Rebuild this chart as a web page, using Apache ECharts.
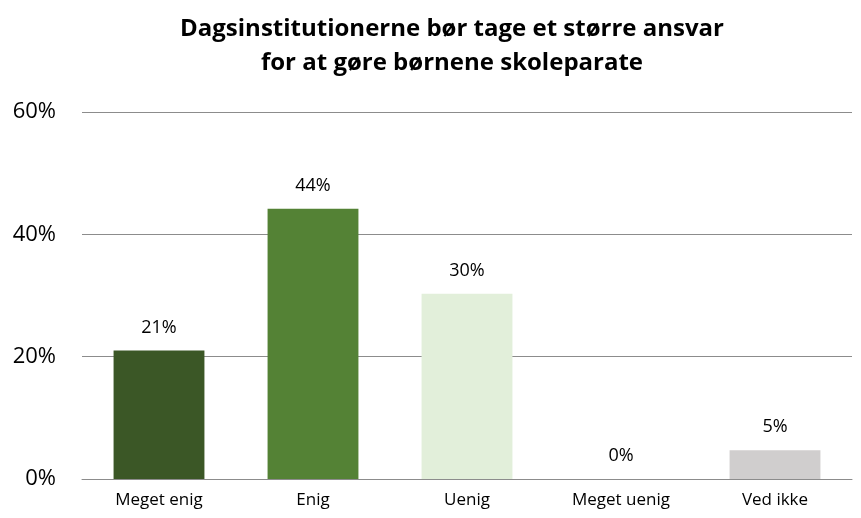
<!DOCTYPE html>
<html>
<head>
  <meta charset="utf-8">
  <title>Dagsinstitutionerne</title>
  <script src="https://cdn.jsdelivr.net/npm/echarts@6.0.0/dist/echarts.min.js"></script>
  <style>
    body { margin: 0; background: #fff; }
    #chart { width: 861px; height: 518px; }
  </style>
</head>
<body>
  <div id="chart"></div>
  <script>
    const categories = ['Meget enig', 'Enig', 'Uenig', 'Meget uenig', 'Ved ikke'];
    const values = [21, 44.2, 30.3, 0, 4.7];
    const barColors = ['#3b5726', '#548235', '#e2efda', '#ffffff', '#d0cece'];
    const font = "'Open Sans', 'Liberation Sans', sans-serif";

    const chart = echarts.init(document.getElementById('chart'));
    chart.setOption({
      animation: false,
      title: {
        text: 'Dagsinstitutionerne bør tage et større ansvar\nfor at gøre børnene skoleparate',
        left: 447,
        textAlign: 'center',
        top: 7,
        textStyle: { fontFamily: font, fontSize: 24, fontWeight: 'bold', color: '#000', lineHeight: 34 }
      },
      grid: { left: 82, right: 9, top: 112, bottom: 39 },
      xAxis: {
        type: 'category',
        data: categories,
        axisTick: { show: false },
        axisLine: { lineStyle: { color: '#8c8c8c', width: 1 } },
        axisLabel: { fontFamily: font, fontSize: 17, color: '#000', margin: 13 }
      },
      yAxis: {
        type: 'value',
        min: 0, max: 60, interval: 20,
        axisLabel: { formatter: '{value}%', fontFamily: font, fontSize: 22, color: '#000', margin: 26 },
        splitLine: { lineStyle: { color: '#8c8c8c', width: 1 } }
      },
      series: [{
        type: 'bar',
        barWidth: '59%',
        data: values.map((v, i) => ({ value: v, itemStyle: { color: barColors[i] } })),
        label: {
          show: true,
          position: 'top',
          distance: 14,
          formatter: p => Math.round(p.value) + '%',
          fontFamily: font, fontSize: 18, color: '#000'
        }
      }]
    });
  </script>
</body>
</html>
